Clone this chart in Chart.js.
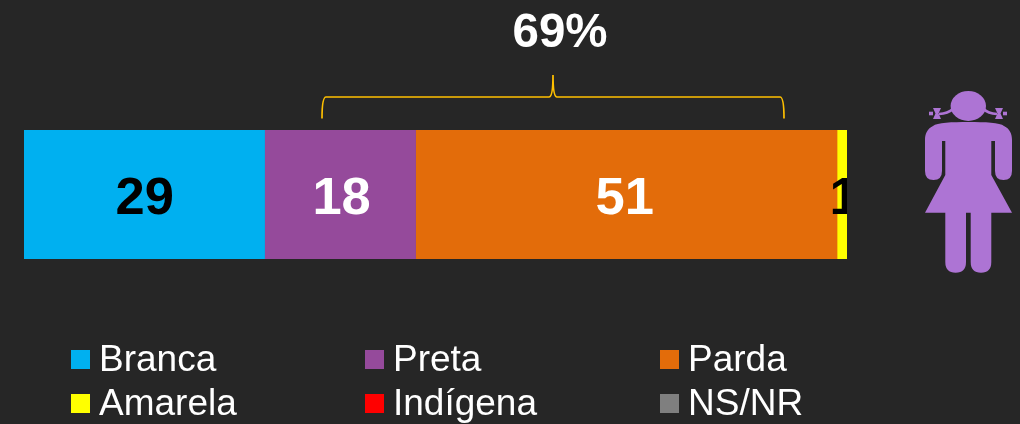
<!DOCTYPE html>
<html>
<head>
<meta charset="utf-8">
<script src="https://cdn.jsdelivr.net/npm/chart.js@4"></script>
<style>
html,body{margin:0;padding:0;background:#262626;}
canvas{display:block;}
</style>
</head>
<body>
<canvas id="c" width="1020" height="424"></canvas>
<script>
const categories = ["Meninas"];
const seriesNames = ["Branca", "Preta", "Parda", "Amarela", "Indígena", "NS/NR"];
const seriesValues = [29.0, 18.2, 50.8, 1.2, 0, 0];
const seriesLabels = ["29", "18", "51", "1", "", ""];
const seriesColors = ["#00B0F0", "#954A9B", "#E36C0A", "#FFFF00", "#FF0000", "#7F7F7F"];
const labelColors = ["#000000", "#FFFFFF", "#FFFFFF", "#000000", "#000000", "#000000"];
const bracketLabel = "69%";
const FONT = '"Liberation Sans", Arial, sans-serif';

const overlay = {
  id: "overlay",
  afterDatasetsDraw(chart) {
    const ctx = chart.ctx, area = chart.chartArea;
    const labelNudge = [0.5, 1.5, -1.5, 2, 0, 0];

    // value labels, clipped to the plot's right edge
    ctx.save();
    ctx.beginPath();
    ctx.rect(area.left, area.top, area.right - area.left, area.bottom - area.top);
    ctx.clip();
    ctx.font = "bold 52.5px " + FONT;
    ctx.textAlign = "center";
    ctx.textBaseline = "alphabetic";
    chart.data.datasets.forEach((ds, i) => {
      if (!seriesLabels[i]) return;
      const el = chart.getDatasetMeta(i).data[0];
      ctx.fillStyle = labelColors[i];
      ctx.fillText(seriesLabels[i], (el.base + el.x) / 2 + labelNudge[i], 214);
    });
    ctx.restore();

    // bracket
    ctx.save();
    ctx.strokeStyle = "#FFC000";
    ctx.lineWidth = 1.7;
    ctx.beginPath();
    ctx.moveTo(322, 118.5);
    ctx.bezierCurveTo(322, 106, 323, 97, 326, 97);
    ctx.lineTo(549, 97);
    ctx.bezierCurveTo(551, 97, 553, 92, 553, 75);
    ctx.bezierCurveTo(553, 92, 555, 97, 557, 97);
    ctx.lineTo(780, 97);
    ctx.bezierCurveTo(783, 97, 784, 106, 784, 118.5);
    ctx.stroke();
    ctx.restore();

    // bracket total
    ctx.font = "bold 47.5px " + FONT;
    ctx.fillStyle = "#FFFFFF";
    ctx.textAlign = "center";
    ctx.textBaseline = "alphabetic";
    ctx.fillText(bracketLabel, 560, 47);

    // legend
    const colX = [71, 365, 660], rowY = [350, 394];
    ctx.font = "37px " + FONT;
    ctx.textAlign = "left";
    seriesNames.forEach((name, i) => {
      const x = colX[i % 3], y = rowY[Math.floor(i / 3)];
      ctx.fillStyle = seriesColors[i];
      ctx.fillRect(x, y, 19, 19);
      ctx.fillStyle = "#FFFFFF";
      ctx.fillText(name, x + 28, y + 20.5);
    });

    // girl pictogram
    ctx.save();
    ctx.fillStyle = "#AD74D4";
    ctx.strokeStyle = "#AD74D4";
    // head
    ctx.beginPath();
    ctx.ellipse(968.3, 106, 17.7, 15, 0, 0, Math.PI * 2);
    ctx.fill();
    // pigtails
    ctx.lineWidth = 2.6;
    ctx.beginPath();
    ctx.moveTo(953, 109);
    ctx.quadraticCurveTo(948, 113.5, 939, 114);
    ctx.moveTo(983.5, 109);
    ctx.quadraticCurveTo(988, 113.5, 997, 114);
    ctx.stroke();
    // bows
    [[937, -1], [999, 1]].forEach(([bx, d]) => {
      ctx.beginPath();
      ctx.moveTo(bx - 4, 108);
      ctx.lineTo(bx + 4, 108);
      ctx.lineTo(bx + 1.5, 113.5);
      ctx.lineTo(bx + 4, 119);
      ctx.lineTo(bx - 4, 119);
      ctx.lineTo(bx - 1.5, 113.5);
      ctx.closePath();
      ctx.fill();
      ctx.fillRect(d < 0 ? bx - 8 : bx + 4, 111.7, 4, 3.6);
    });
    // body
    ctx.beginPath();
    ctx.moveTo(968.5, 122);
    ctx.bezierCurveTo(985, 122, 1000, 122.5, 1004, 126);
    ctx.bezierCurveTo(1010, 129, 1012, 134, 1012, 140);
    ctx.lineTo(1012, 171);
    ctx.quadraticCurveTo(1012, 180, 1003.5, 180);
    ctx.quadraticCurveTo(995, 180, 995, 171);
    ctx.lineTo(995, 141);
    ctx.lineTo(991.3, 141);
    ctx.lineTo(991.3, 175);
    ctx.lineTo(1012, 212.7);
    ctx.lineTo(991.3, 212.7);
    ctx.lineTo(991.3, 262);
    ctx.quadraticCurveTo(991.3, 272.7, 981, 272.7);
    ctx.quadraticCurveTo(970.7, 272.7, 970.7, 262);
    ctx.lineTo(970.7, 212.7);
    ctx.lineTo(966, 212.7);
    ctx.lineTo(966, 262);
    ctx.quadraticCurveTo(966, 272.7, 955.6, 272.7);
    ctx.quadraticCurveTo(945.3, 272.7, 945.3, 262);
    ctx.lineTo(945.3, 212.7);
    ctx.lineTo(925, 212.7);
    ctx.lineTo(945.3, 175);
    ctx.lineTo(945.3, 141);
    ctx.lineTo(942, 141);
    ctx.lineTo(942, 171);
    ctx.quadraticCurveTo(942, 180, 933.5, 180);
    ctx.quadraticCurveTo(925, 180, 925, 171);
    ctx.lineTo(925, 140);
    ctx.bezierCurveTo(925, 134, 927, 129, 933, 126);
    ctx.bezierCurveTo(937, 122.5, 952, 122, 968.5, 122);
    ctx.closePath();
    ctx.fill();
    ctx.restore();
  }
};

new Chart(document.getElementById("c"), {
  type: "bar",
  data: {
    labels: categories,
    datasets: seriesNames.map((name, i) => ({
      label: name,
      data: [seriesValues[i]],
      backgroundColor: seriesColors[i],
      borderWidth: 0,
      barPercentage: 1,
      categoryPercentage: 1
    }))
  },
  options: {
    indexAxis: "y",
    responsive: false,
    animation: false,
    layout: { padding: { left: 24, right: 173, top: 130, bottom: 165 } },
    scales: {
      x: { stacked: true, display: false, min: 0, max: 99.2 },
      y: { stacked: true, display: false }
    },
    plugins: {
      legend: { display: false },
      tooltip: { enabled: false },
      title: { display: false }
    }
  },
  plugins: [overlay]
});
</script>
</body>
</html>
